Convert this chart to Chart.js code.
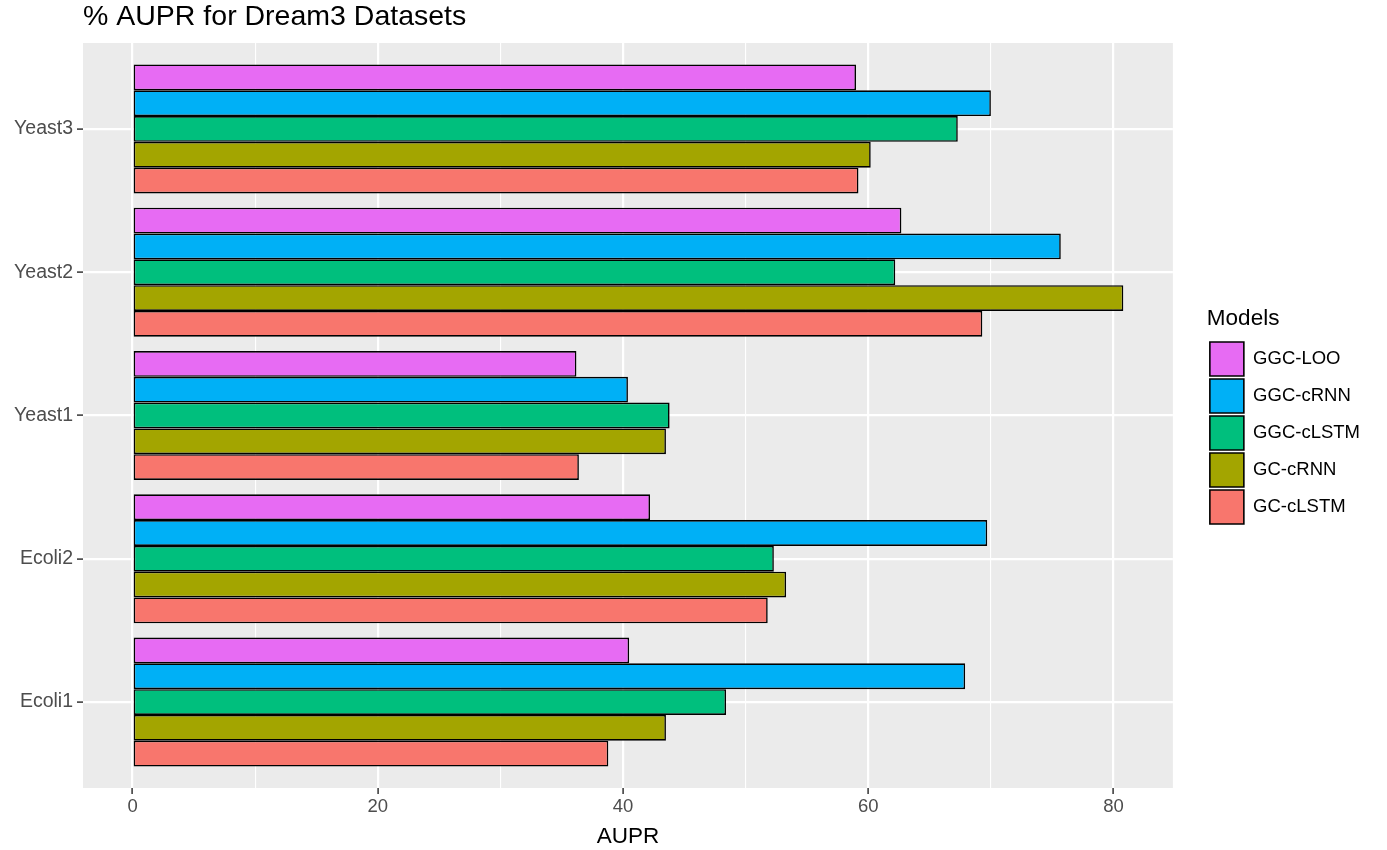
<!DOCTYPE html>
<html>
<head>
<meta charset="utf-8">
<title>% AUPR for Dream3 Datasets</title>
<script src="https://cdn.jsdelivr.net/npm/chart.js@4.4.1/dist/chart.umd.min.js"></script>
<style>
  html, body { margin: 0; padding: 0; background: #fff; }
  #wrap { width: 1387px; height: 850px; }
</style>
</head>
<body>
<div id="wrap"><canvas id="chart" width="1387" height="850"></canvas></div>
<script>
// datasets, bottom to top as drawn on the y axis
const categories = ["Ecoli1", "Ecoli2", "Yeast1", "Yeast2", "Yeast3"];
const models = ["GGC-LOO", "GGC-cRNN", "GGC-cLSTM", "GC-cRNN", "GC-cLSTM"];

// AUPR (%) per dataset, same order as categories
const ggcLoo   = [40.5, 42.2, 36.2, 62.7, 59.0];
const ggcCrnn  = [67.9, 69.7, 40.4, 75.7, 70.0];
const ggcClstm = [48.4, 52.3, 43.8, 62.2, 67.3];
const gcCrnn   = [43.5, 53.3, 43.5, 80.8, 60.2];
const gcClstm  = [38.8, 51.8, 36.4, 69.3, 59.2];

const xTickLabels = [0, 20, 40, 60, 80];

const seriesValues = [ggcLoo, ggcCrnn, ggcClstm, gcCrnn, gcClstm];
const seriesColors = ["#E76BF3", "#00B0F6", "#00BF7D", "#A3A500", "#F8766D"];

const FONT = '"Liberation Sans", Arial, sans-serif';
Chart.defaults.font.family = FONT;

// ggplot-ish 5% expansion on the value axis
const maxVal = Math.max(...seriesValues.flat());
const xMin = -0.05 * maxVal;
const xMax = maxVal * 1.05;

const datasets = models.map((name, k) => ({
  label: name,
  data: categories.map((c, i) => ({ x: seriesValues[k][i], y: i })),
  backgroundColor: seriesColors[k],
  borderColor: "#000",
  borderWidth: 1.6,
  borderSkipped: false,
  barPercentage: 1,
  categoryPercentage: 0.9
}));

// grey panel + nudge the legend away from the panel
const panelPlugin = {
  id: "panel",
  beforeDraw(chart) {
    const { ctx, chartArea: a } = chart;
    ctx.save();
    ctx.fillStyle = "#EBEBEB";
    ctx.fillRect(a.left, a.top, a.right - a.left, a.bottom - a.top);
    ctx.restore();
  },
  afterLayout(chart) {
    chart.legend.left += 34;
    chart.legend.right += 34;
  }
};

new Chart(document.getElementById("chart"), {
  type: "bar",
  data: { datasets },
  plugins: [panelPlugin],
  options: {
    indexAxis: "y",
    responsive: false,
    animation: false,
    layout: { padding: { left: 0, right: 51, top: 0, bottom: 0 } },
    plugins: {
      tooltip: { enabled: false },
      title: {
        display: true,
        text: "% AUPR for Dream3 Datasets",
        align: "start",
        fullSize: false,
        color: "#000",
        font: { size: 28.5, weight: "normal" },
        padding: { top: 0, bottom: 8.8 }
      },
      legend: {
        position: "right",
        fullSize: false,
        align: "center",
        labels: {
          boxWidth: 34,
          boxHeight: 34,
          padding: 3,
          color: "#000",
          font: { size: 18.5 }
        },
        title: {
          display: true,
          text: "Models",
          color: "#000",
          position: "start",
          font: { size: 22.5 },
          padding: { top: 4, bottom: 4 }
        }
      }
    },
    scales: {
      x: {
        type: "linear",
        min: xMin,
        max: xMax,
        offset: false,
        border: { display: false },
        grid: {
          offset: false,
          color: "#fff",
          lineWidth: ctx => (ctx.tick && xTickLabels.includes(ctx.tick.value) ? 2.2 : 1.1),
          tickLength: 6,
          tickWidth: 1.5,
          tickColor: ctx => (ctx.tick && xTickLabels.includes(ctx.tick.value) ? "#333" : "rgba(0,0,0,0)")
        },
        ticks: {
          stepSize: 10,
          includeBounds: false,
          autoSkip: false,
          maxRotation: 0,
          padding: 2,
          color: "#4D4D4D",
          font: { size: 18.5 },
          callback: v => (xTickLabels.includes(v) ? String(v) : "")
        },
        title: {
          display: true,
          text: "AUPR",
          color: "#000",
          font: { size: 22.5 },
          padding: 0
        },
        afterBuildTicks: s => { s.ticks = s.ticks.filter(t => Math.abs(t.value % 10) < 1e-9); },
        afterFit: s => { s.height = 62; }
      },
      y: {
        type: "linear",
        min: -0.6,
        max: categories.length - 0.4,
        offset: false,
        border: { display: false },
        grid: {
          offset: false,
          color: "#fff",
          lineWidth: 2.2,
          tickLength: 6,
          tickWidth: 1.5,
          tickColor: "#333"
        },
        ticks: {
          stepSize: 1,
          includeBounds: false,
          autoSkip: false,
          padding: 4,
          color: "#4D4D4D",
          font: { size: 19.5 },
          callback: v => categories[v]
        },
        afterBuildTicks: s => { s.ticks = s.ticks.filter(t => Number.isInteger(t.value)); },
        afterFit: s => { s.width = 83; }
      }
    }
  }
});
</script>
</body>
</html>
